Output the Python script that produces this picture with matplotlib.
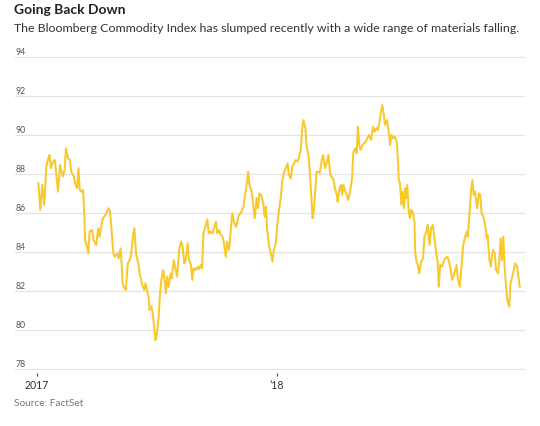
import matplotlib
matplotlib.use("Agg")
import matplotlib.pyplot as plt
import matplotlib.transforms as mtransforms
import pandas as pd

# ---- data (days since 2017-01-01, index value) ----
days = [2, 5, 8, 11, 14, 17, 19, 21, 24, 27, 29, 32, 35, 39, 42, 44, 47, 50, 52, 56,
        58, 61, 63, 65, 67, 70, 72, 73, 76, 78, 80, 84, 86, 90, 93, 95, 98, 100, 104, 106,
        109, 111, 113, 116, 118, 122, 124, 127, 129, 130, 133, 135, 138, 141, 143, 146, 148, 149, 151, 154,
        156, 160, 163, 165, 167, 170, 171, 174, 176, 178, 180, 182, 185, 187, 189, 192, 194, 196, 198, 200,
        203, 205, 208, 211, 213, 216, 219, 221, 224, 226, 229, 231, 234, 236, 238, 241, 244, 246, 249, 251,
        253, 256, 259, 261, 264, 267, 269, 272, 274, 277, 279, 282, 284, 287, 289, 292, 295, 297, 300, 303,
        306, 309, 311, 314, 316, 319, 321, 323, 326, 328, 331, 334, 336, 338, 341, 344, 346, 348, 350, 353,
        355, 358, 360, 363, 365, 368, 371, 373, 376, 379, 381, 383, 386, 388, 391, 393, 396, 398, 401, 403,
        405, 408, 410, 413, 415, 417, 419, 421, 423, 425, 428, 430, 433, 435, 438, 441, 443, 446, 448, 451,
        453, 456, 457, 460, 462, 464, 466, 468, 471, 473, 476, 479, 481, 484, 486, 488, 490, 492, 495, 497,
        500, 502, 505, 508, 511, 513, 516, 518, 521, 523, 525, 527, 529, 532, 534, 537, 539, 542, 544, 547,
        549, 550, 552, 554, 556, 558, 560, 561, 563, 565, 567, 569, 571, 574, 575, 577, 579, 581, 584, 587,
        589, 592, 594, 597, 599, 602, 604, 607, 609, 611, 613, 616, 619, 621, 624, 626, 629, 631, 634, 636,
        638, 640, 643, 646, 648, 651, 654, 655, 658, 660, 662, 664, 666, 669, 672, 674, 676, 679, 682, 684,
        685, 688, 690, 693, 696, 698, 701, 703, 705, 707, 709, 711, 713, 715, 718, 720, 722, 725, 727, 730,
        732, 734]
values = [87.50, 86.14, 87.42, 86.40, 88.36, 88.79, 88.96, 88.28, 88.60, 88.70, 88.10, 87.08, 88.45, 87.85, 88.20, 89.30, 88.79, 88.70, 88.10, 87.85,
          87.50, 87.25, 88.28, 87.16, 87.08, 87.16, 85.80, 84.60, 84.26, 83.92, 85.03, 85.11, 84.60, 84.34, 85.20, 84.77, 85.37, 85.71, 85.88, 86.05,
          86.23, 86.05, 85.28, 83.92, 83.74, 83.92, 83.66, 84.17, 83.23, 82.38, 82.12, 82.04, 83.40, 83.57, 83.83, 84.86, 85.20, 84.60, 83.83, 83.40,
          82.89, 82.29, 82.04, 82.38, 82.04, 81.61, 81.00, 81.18, 80.84, 80.15, 79.47, 79.73, 80.67, 81.87, 82.55, 83.06, 82.55, 81.87, 82.72, 82.20,
          82.89, 82.63, 83.57, 83.06, 82.72, 84.09, 84.51, 84.35, 83.40, 83.57, 84.43, 83.57, 83.32, 82.55, 83.15, 83.06, 83.23, 83.10, 83.32, 83.15,
          84.94, 85.28, 85.66, 84.94, 85.03, 84.94, 85.20, 85.54, 84.94, 85.11, 84.86, 84.77, 84.50, 83.74, 84.51, 84.09, 85.28, 85.97, 85.46, 85.28,
          85.80, 85.97, 86.06, 86.31, 86.82, 87.50, 88.10, 87.42, 87.16, 86.65, 85.71, 86.74, 86.23, 86.99, 86.90, 86.48, 85.80, 86.31, 85.11, 84.26,
          84.00, 83.49, 84.09, 84.43, 85.28, 86.14, 86.90, 87.68, 88.10, 88.36, 88.53, 87.93, 87.76, 88.36, 88.53, 88.70, 88.62, 88.79, 89.22, 90.24,
          90.75, 90.33, 89.38, 88.87, 88.02, 86.82, 85.71, 86.14, 87.16, 88.10, 88.10, 88.05, 88.70, 88.96, 88.28, 88.62, 88.96, 87.93, 87.85, 87.68,
          87.25, 86.91, 86.56, 87.25, 87.42, 86.91, 87.42, 87.16, 86.91, 86.65, 87.08, 87.76, 89.13, 89.30, 89.05, 90.41, 89.47, 89.22, 89.47, 89.56,
          89.64, 89.81, 89.98, 89.73, 90.41, 90.15, 90.33, 90.24, 90.67, 91.18, 91.52, 91.10, 90.50, 90.75, 90.33, 89.47, 89.98, 89.81, 89.90, 89.64,
          88.62, 87.68, 87.50, 86.40, 87.08, 86.23, 87.25, 86.74, 87.42, 86.14, 85.71, 86.14, 86.05, 85.54, 84.00, 83.49, 83.32, 82.89, 83.49, 83.66,
          84.77, 85.03, 85.37, 84.34, 85.20, 85.37, 84.77, 83.92, 83.57, 82.20, 83.32, 83.23, 83.57, 83.66, 83.74, 83.57, 83.06, 82.55, 82.80, 83.06,
          83.32, 82.55, 82.20, 83.49, 84.34, 84.77, 85.03, 84.77, 86.14, 87.16, 87.68, 86.91, 87.08, 86.23, 86.99, 86.91, 85.97, 85.80, 85.20, 84.69,
          84.86, 83.57, 83.23, 84.09, 83.92, 83.06, 82.89, 83.57, 84.69, 83.57, 84.77, 83.23, 82.29, 81.52, 81.18, 82.38, 82.63, 83.06, 83.40, 83.23,
          82.72, 82.20]

y_ticks = [78, 80, 82, 84, 86, 88, 90, 92, 94]
x_tick_dates = ["2017-01-01", "2018-01-01"]
x_tick_labels = ["2017", "\u201918"]

title = "Going Back Down"
subtitle = "The Bloomberg Commodity Index has slumped recently with a wide range of materials falling."
source = "Source: FactSet"

# ---- figure ----
plt.rcParams['font.family'] = ['Lato', 'DejaVu Sans']
W, H = 540, 426
fig = plt.figure(figsize=(W / 100, H / 100), dpi=100)
fig.patch.set_facecolor("white")

ymin, ymax = 77.8, 94.2
px_per_unit = 19.5
top_px = 56.7 - (ymax - 94) * px_per_unit
bot_px = 368.7 + (78 - ymin) * px_per_unit
left_px, right_px = 15, 525
ax = fig.add_axes([left_px / W, 1 - bot_px / H, (right_px - left_px) / W, (bot_px - top_px) / H])

start = pd.Timestamp("2017-01-01")
dates = start + pd.to_timedelta(days, unit="D")
ax.plot(dates, values, color="#f7c92c", lw=1.45, solid_joinstyle="round", zorder=3)

ax.set_ylim(ymin, ymax)
ax.set_xlim(start - pd.Timedelta(days=33.5), start + pd.Timedelta(days=742))

for s in ax.spines.values():
    s.set_visible(False)

ax.set_yticks(y_ticks)
ax.set_yticklabels([])
ax.tick_params(axis="y", length=0)
ax.grid(axis="y", color="#e4e4e4", lw=0.9)
ax.set_axisbelow(True)
trans = mtransforms.blended_transform_factory(ax.transAxes, ax.transData)
for v in y_ticks:
    ax.annotate(str(v), xy=(0, v), xycoords=trans, xytext=(1, 1.5), textcoords="offset pixels",
                ha="left", va="baseline", fontsize=6.3, color="#555555")

ax.set_xticks(pd.to_datetime(x_tick_dates))
ax.set_xticklabels(x_tick_labels)
ax.tick_params(axis="x", length=2.5, width=0.8, color="#444444", pad=2.5,
               labelsize=7.6, labelcolor="#333333", direction="out")

fig.text(14 / W, 1 - 14.5 / H, title, fontsize=10.0, fontweight="bold", color="#222222", va="baseline")
fig.text(14 / W, 1 - 32 / H, subtitle, fontsize=8.9, color="#333333", va="baseline")
fig.text(14 / W, 1 - 406 / H, source, fontsize=7.3, color="#777777", va="baseline")

fig.savefig("out.png", dpi=100, facecolor="white")
